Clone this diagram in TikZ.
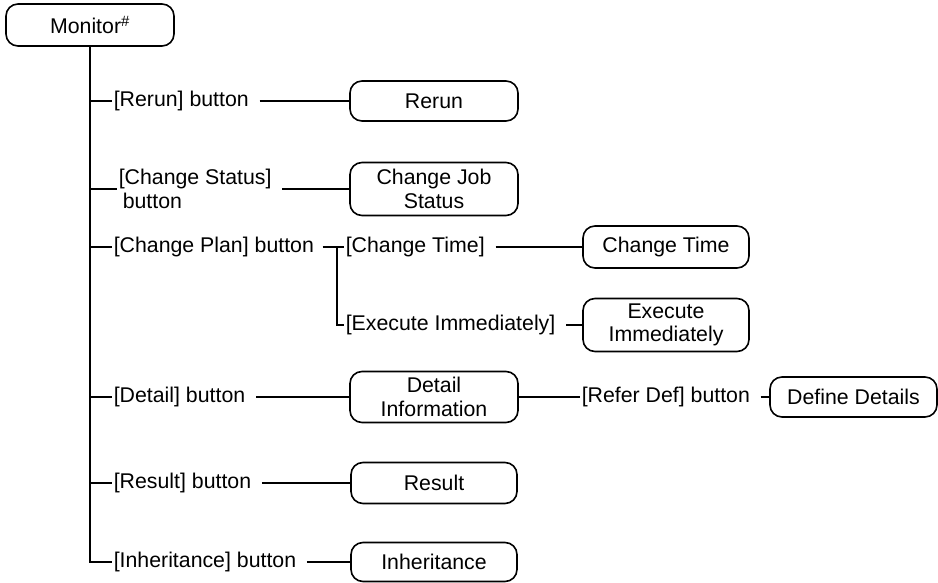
\documentclass[tikz,border=0pt]{standalone}
\usepackage{fontspec}
\setmainfont{Liberation Sans}
\begin{document}
\begin{tikzpicture}[x=1pt,y=-1pt, line width=1.6pt,
  box/.style={draw, rounded corners=12pt, align=center, inner sep=0pt, font=\fontsize{21.3}{23.5}\selectfont},
  lbl/.style={anchor=west, inner xsep=1pt, inner ysep=0pt, align=left, font=\fontsize{21.3}{23.5}\selectfont},
  lnk/.style={shorten <=9pt}]
\useasboundingbox (0,0) rectangle (938,582);
% boxes
\node[box, minimum width=168pt, minimum height=42pt] (mon) at (90,25) {Monitor\textsuperscript{\#}};
\node[box, minimum width=168pt, minimum height=40pt] (rerun) at (434,101) {Rerun};
\node[box, minimum width=168pt, minimum height=53pt] (cjs) at (434,189) {Change Job\\Status};
\node[box, minimum width=166pt, minimum height=42pt] (ct) at (666,247) {Change Time};
\node[box, minimum width=166pt, minimum height=53pt] (ei) at (666,325) {Execute\\Immediately};
\node[box, minimum width=168pt, minimum height=51pt] (di) at (434,397) {Detail\\Information};
\node[box, minimum width=167pt, minimum height=40pt] (dd) at (853.5,397) {Define Details};
\node[box, minimum width=166pt, minimum height=41pt] (res) at (434,483) {Result};
\node[box, minimum width=166pt, minimum height=39pt] (inh) at (434,562) {Inheritance};
% labels
\node[lbl] (l1) at (112,101) {[Rerun] button};
\node[lbl] (l2) at (117,189) {[Change Status]\\\hspace{4pt}button};
\node[lbl] (l3) at (112,247) {[Change Plan] button};
\node[lbl] (l31) at (344,247) {[Change Time]};
\node[lbl] (l32) at (344,325) {[Execute Immediately]};
\node[lbl] (l4) at (112,397) {[Detail] button};
\node[lbl] (l41) at (580,397) {[Refer Def] button};
\node[lbl] (l5) at (112,483) {[Result] button};
\node[lbl] (l6) at (112,562) {[Inheritance] button};
\coordinate (j) at (337,247);
% trunk and stubs
\draw (mon.south) |- (l6.west);
\draw (mon.south |- l1.west) -- (l1.west);
\draw (mon.south |- l2.west) -- (l2.west);
\draw (mon.south |- l3.west) -- (l3.west);
\draw (mon.south |- l4.west) -- (l4.west);
\draw (mon.south |- l5.west) -- (l5.west);
% right connectors
\draw[lnk] (l1.east) -- (rerun.west);
\draw[lnk] (l2.east) -- (cjs.west);
\draw[shorten <=7pt] (l3.east) -- (j) -- (l31.west);
\draw (j) |- (l32.west);
\draw[lnk] (l31.east) -- (ct.west);
\draw[lnk] (l32.east) -- (ei.west);
\draw[lnk] (l4.east) -- (di.west);
\draw (di.east) -- (l41.west);
\draw[lnk] (l41.east) -- (dd.west);
\draw[lnk] (l5.east) -- (res.west);
\draw[lnk] (l6.east) -- (inh.west);
\end{tikzpicture}
\end{document}
